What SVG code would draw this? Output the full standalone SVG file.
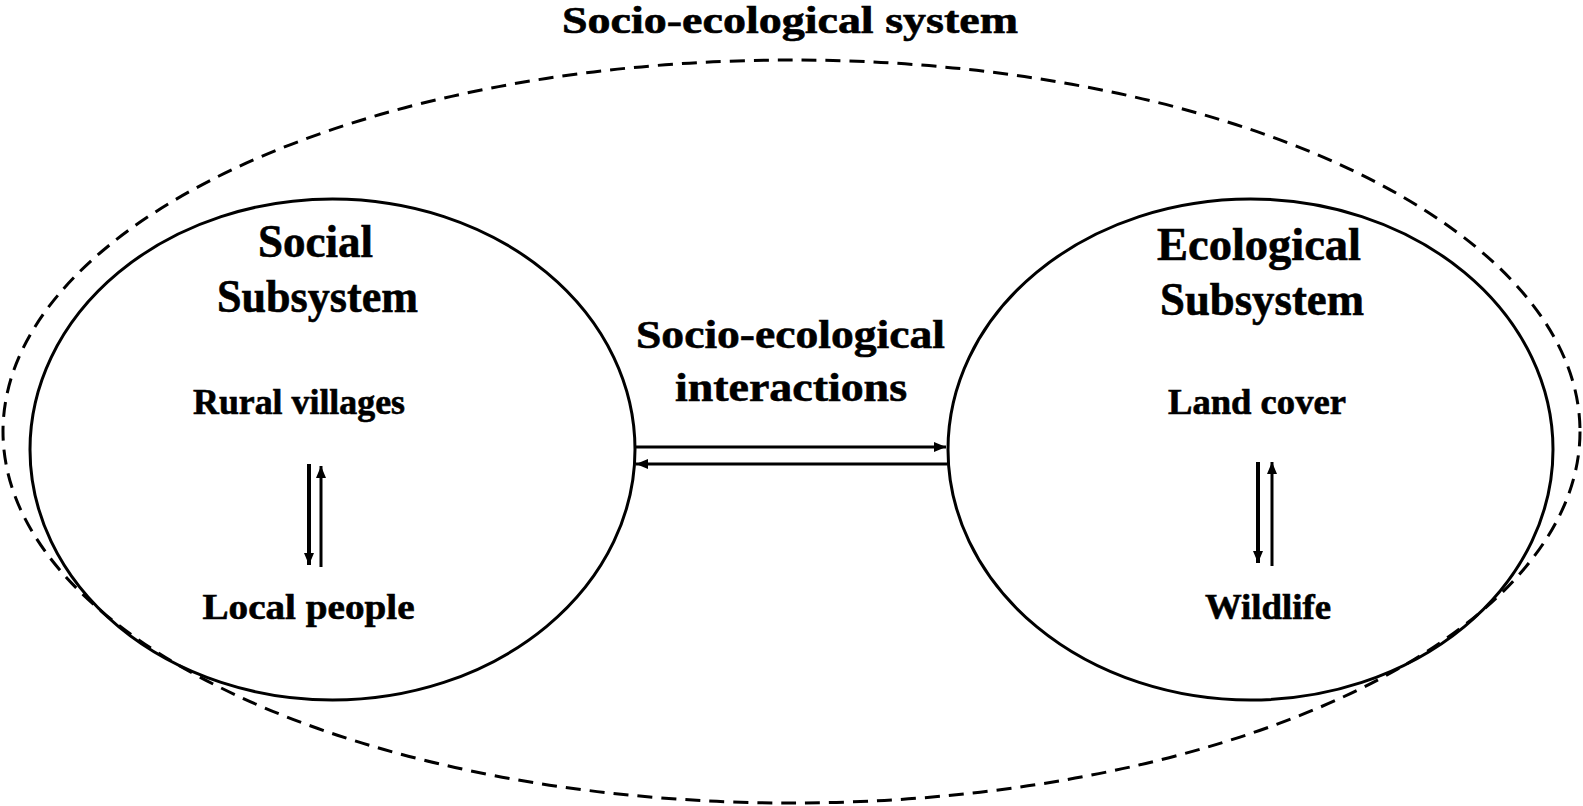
<svg xmlns="http://www.w3.org/2000/svg" width="1583" height="806" viewBox="0 0 1583 806">
<style>
.t{font-family:"Liberation Serif","Times New Roman",serif;font-weight:bold;fill:#000;text-anchor:middle;stroke:#000;stroke-width:0.6}
.big{font-size:46px}
.mid{font-size:40px}
.top{font-size:37px}
.sm{font-size:35px}
.ell{fill:none;stroke:#000;stroke-width:3}
.dash{fill:none;stroke:#000;stroke-width:3;stroke-dasharray:15 9}
.ar{stroke:#000;stroke-width:3;fill:none}
.ark{stroke:#000;stroke-width:4;fill:none}
</style>
<defs>
<marker id="ah" markerUnits="userSpaceOnUse" markerWidth="14" markerHeight="12" refX="12" refY="5" orient="auto">
<path d="M0,0 L12,5 L0,10 Z" fill="#000"/>
</marker>
</defs>
<rect width="1583" height="806" fill="#fff"/>
<g id="socio-ecological-system">
<ellipse class="dash" cx="791.5" cy="431.5" rx="788.5" ry="371.5"/>
<text class="t top" x="790" y="33" textLength="456" lengthAdjust="spacingAndGlyphs">Socio-ecological system</text>
</g>
<g id="social-subsystem">
<ellipse class="ell" cx="332.5" cy="449.5" rx="302.5" ry="250.5"/>
<text class="t big" x="315.5" y="257" textLength="115" lengthAdjust="spacingAndGlyphs">Social</text>
<text class="t big" x="317.5" y="312" textLength="201" lengthAdjust="spacingAndGlyphs">Subsystem</text>
</g>
<g id="rural-villages">
<text class="t sm" x="299" y="414" textLength="212" lengthAdjust="spacingAndGlyphs">Rural villages</text>
</g>
<g id="local-people">
<text class="t sm" x="308.5" y="619" textLength="212" lengthAdjust="spacingAndGlyphs">Local people</text>
</g>
<g id="ecological-subsystem">
<ellipse class="ell" cx="1250.5" cy="449.5" rx="302.5" ry="250.5"/>
<text class="t big" x="1259" y="260" textLength="204" lengthAdjust="spacingAndGlyphs">Ecological</text>
<text class="t big" x="1262" y="315" textLength="204" lengthAdjust="spacingAndGlyphs">Subsystem</text>
</g>
<g id="land-cover">
<text class="t sm" x="1257" y="414" textLength="178" lengthAdjust="spacingAndGlyphs">Land cover</text>
</g>
<g id="wildlife">
<text class="t sm" x="1268" y="619" textLength="126" lengthAdjust="spacingAndGlyphs">Wildlife</text>
</g>
<g id="interactions-label">
<text class="t mid" x="790.5" y="348" textLength="309" lengthAdjust="spacingAndGlyphs">Socio-ecological</text>
<text class="t mid" x="791" y="401" textLength="232" lengthAdjust="spacingAndGlyphs">interactions</text>
</g>
<g id="connectors">
<line class="ar" x1="635" y1="447" x2="946" y2="447" marker-end="url(#ah)"/>
<line class="ar" x1="947" y1="464" x2="636" y2="464" marker-end="url(#ah)"/>
<line class="ark" x1="309" y1="464" x2="309" y2="565" marker-end="url(#ah)"/>
<line class="ar" x1="321" y1="567" x2="321" y2="466" marker-end="url(#ah)"/>
<line class="ark" x1="1258" y1="462" x2="1258" y2="563" marker-end="url(#ah)"/>
<line class="ar" x1="1272" y1="566" x2="1272" y2="462" marker-end="url(#ah)"/>
</g>
</svg>
